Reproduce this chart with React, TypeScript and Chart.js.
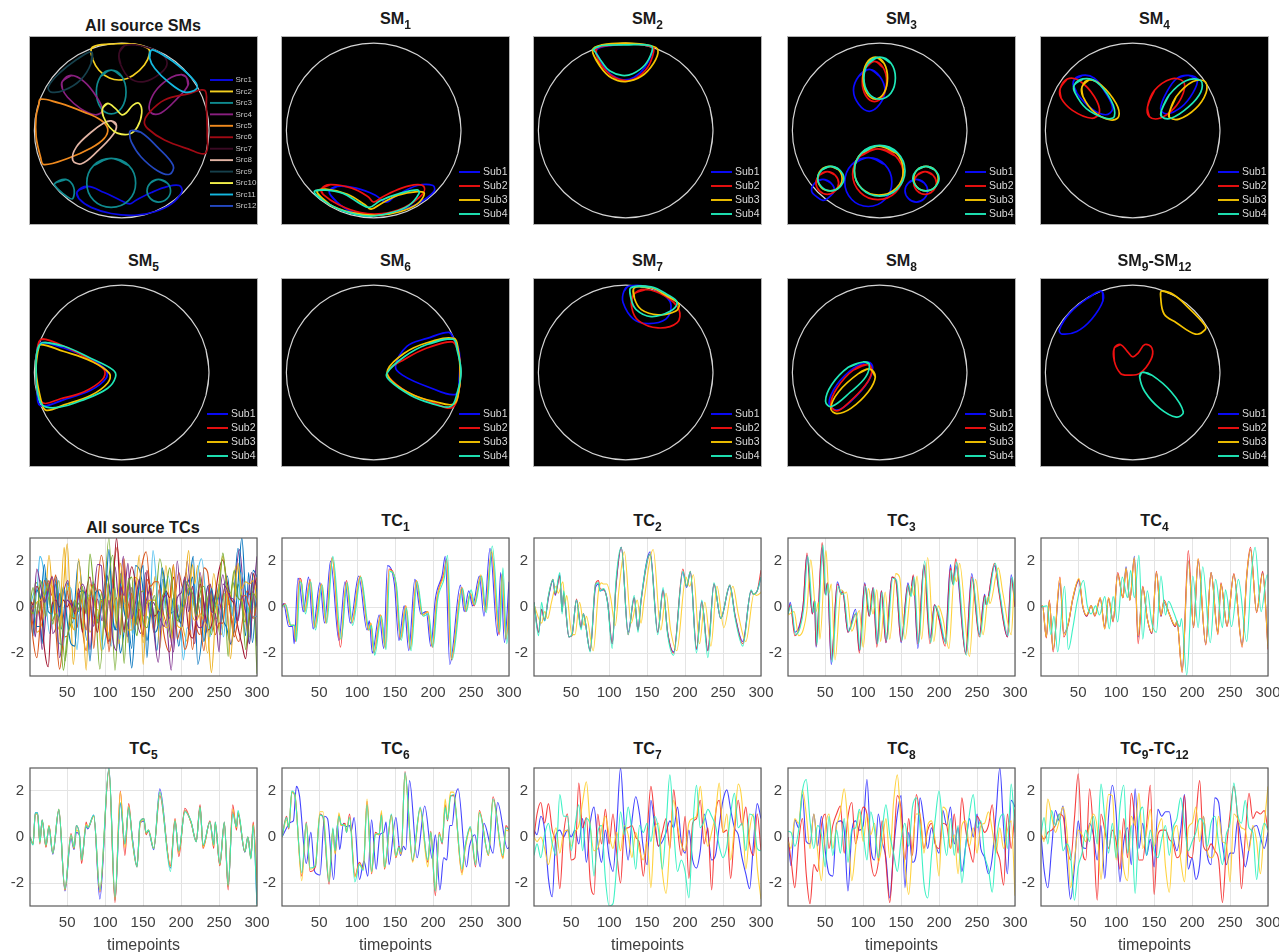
import React, { useEffect, useRef } from "react";
import { Chart, registerables } from "chart.js";

Chart.register(...registerables);
Chart.defaults.font.family = "'Liberation Sans', Arial, sans-serif";

const FONT = "'Liberation Sans', Arial, sans-serif";
const SUB_COLORS = ["#0a0aff", "#f01010", "#f5c400", "#1fe8b8"];
const TC_COLORS = ["rgba(20,20,255,.8)", "rgba(245,30,30,.85)", "rgba(255,205,40,.9)", "rgba(40,240,190,.9)"];
const SRC_COLORS = ["#0a0ae6", "#f5d020", "#0f8a8f", "#8a1f80", "#f08a1e", "#a00a14", "#3a0a24", "#e2b4a4", "#16404c", "#f2f04a", "#14b8e0", "#2448c0"];
const MATLAB = ["#0072BD", "#D95319", "#EDB120", "#7E2F8E", "#77AC30", "#4DBEEE", "#A2142F"];
const SUB_NAMES = ["Sub1", "Sub2", "Sub3", "Sub4"];
const SRC_NAMES = ["Src1", "Src2", "Src3", "Src4", "Src5", "Src6", "Src7", "Src8", "Src9", "Src10", "Src11", "Src12"];
const X_TICKS = [50, 100, 150, 200, 250, 300];
const Y_TICKS = [-2, 0, 2];

// Head outline, in map units
const HEAD = [100,0,96.6,25.9,86.6,50,70.7,70.7,50,86.6,25.9,96.6,0,100,-25.9,96.6,-50,86.6,-70.7,70.7,-86.6,50,-96.6,25.9,-100,0,-96.6,-25.9,-86.6,-50,-70.7,-70.7,-50,-86.6,-25.9,-96.6,0,-100,25.9,-96.6,50,-86.6,70.7,-70.7,86.6,-50,96.6,-25.9];

// All source SMs
const SRC1 = [[-51,-70,-39,-64,-20,-71,-1,-80,9,-84,16,-80,34,-71,53,-64,66,-63,69,-70,57,-84,38,-93,15,-97,-12,-95,-35,-88,-49,-78]];
const SRC2 = [[-35,93,-30,97,-12,99,15,99,30,94,32,88,26,75,13,63,0,58,-14,60,-26,69,-33,81]];
const SRC3 = [
  [-12,69,0,62,5,44,0,26,-12,19,-24,26,-29,44,-24,62],
  [-12,-32,8,-40,16,-60,8,-80,-12,-88,-32,-80,-40,-60,-32,-40],
  [-77,-61,-64,-56,-55,-65,-56,-78,-62,-76,-72,-68],
  [42,-56,52,-60,56,-69,52,-78,42,-82,33,-78,29,-69,33,-60],
];
const SRC4 = [
  [-68,56,-58,63,-43,56,-29,39,-22,23,-30,18,-47,25,-62,38,-68,48],
  [74,61,76,52,64,37,45,20,34,20,32,31,41,48,57,61,68,64],
];
const SRC5 = [[-93,36,-70,31,-43,21,-24,12,-16,2,-20,-9,-35,-20,-62,-32,-89,-39,-93,-30,-98,-7,-98,16,-95,29]];
const SRC6 = [[95,46,76,42,49,35,32,21,26,10,30,2,49,-11,76,-21,96,-26,98,-3,97,27]];
const SRC7 = [[-3,88,3,97,22,97,45,88,52,77,45,66,26,56,9,60,-1,75]];
const SRC8 = [[-12,11,-6,6,-10,-5,-28,-24,-46,-38,-56,-34,-52,-19,-35,-2,-20,9]];
const SRC9 = [[-35,90,-35,77,-47,58,-66,46,-81,44,-84,50,-72,65,-52,81]];
const SRC10 = [[-22,25,-16,31,-7,25,0,18,5,20,13,29,20,31,23,20,18,4,9,-4,-5,-3,-14,4,-21,16]];
const SRC11 = [[34,92,41,90,64,75,84,56,86,48,72,44,53,56,38,71,32,83]];
const SRC12 = [[11,0,22,-2,41,-19,59,-40,55,-50,41,-46,22,-30,11,-13,9,-3]];

const SM1 = [
  [[-51,-70,-42,-64,-20,-66,2,-74,14,-82,25,-75,50,-63,68,-63,69,-70,50,-84,25,-93,0,-97,-25,-93,-42,-82]],
  [[-60,-67,-50,-62,-25,-66,-6,-76,0,-82,10,-76,32,-66,50,-62,58,-65,55,-74,35,-88,10,-95,-15,-94,-40,-85,-58,-73]],
  [[-65,-70,-55,-67,-30,-73,-10,-85,-3,-90,8,-84,28,-74,50,-70,58,-72,50,-84,30,-93,5,-97,-25,-94,-50,-85]],
  [[-68,-70,-58,-68,-35,-72,-15,-84,-5,-88,8,-80,30,-72,50,-68,52,-72,40,-86,20,-94,-5,-98,-35,-92,-58,-80]],
];
const SM2 = [
  [[-33,93,0,99,30,96,30,88,22,72,10,61,-3,58,-18,65,-28,78]],
  [[-32,95,0,99,30,96,32,90,25,72,12,60,0,57,-15,62,-28,75,-34,88]],
  [[-38,92,-27,98,0,100,29,97,37,92,32,77,18,62,0,56,-16,60,-29,73]],
  [[-37,93,-28,97,0,98,29,97,30,90,22,75,8,65,-4,63,-18,68,-27,78,-35,90]],
];
const SM3 = [
  [
    [-12,70,0,62,6,46,0,30,-12,22,-24,30,-30,46,-24,62],
    [-13,-31,6,-39,14,-59,6,-79,-13,-87,-32,-79,-40,-59,-32,-39],
    [-65,-56,-56,-60,-52,-69,-60,-78,-65,-80,-72,-76,-78,-69,-74,-60],
    [42,-56,51,-60,55,-69,51,-78,42,-82,33,-78,29,-69,33,-60],
  ],
  [
    [-6,79,4,72,8,56,4,40,-6,33,-16,40,-20,56,-16,72],
    [-2,-21,18,-29,27,-50,18,-71,-2,-79,-22,-71,-31,-50,-22,-29],
    [-60,-47,-51,-51,-47,-60,-51,-69,-60,-73,-69,-69,-73,-60,-69,-51],
    [52,-47,61,-51,65,-60,61,-69,52,-73,43,-69,39,-60,43,-51],
  ],
  [
    [-5,84,5,77,9,60,5,43,-5,36,-15,43,-19,60,-15,77],
    [-1,-18,19,-26,27,-46,19,-66,-1,-74,-21,-66,-29,-46,-21,-26],
    [-57,-41,-47,-45,-43,-55,-47,-65,-57,-69,-67,-65,-71,-55,-67,-45],
    [53,-41,63,-45,67,-55,63,-65,53,-69,43,-65,39,-55,43,-45],
  ],
  [
    [0,84,13,77,18,60,13,43,0,36,-13,43,-18,60,-13,77],
    [0,-17,20,-25,29,-46,20,-67,0,-75,-20,-67,-29,-46,-20,-25],
    [-56,-41,-46,-45,-41,-55,-46,-65,-56,-69,-66,-65,-71,-55,-66,-45],
    [53,-41,63,-45,68,-55,63,-65,53,-69,43,-65,38,-55,43,-45],
  ],
];
const SM4 = [
  [[-68,56,-58,63,-44,60,-31,43,-23,25,-31,18,-47,25,-64,43],[64,63,74,58,69,43,56,27,39,19,32,25,39,44,51,60]],
  [[-83,48,-75,59,-61,57,-44,39,-38,21,-47,14,-69,23,-82,37],[17,27,25,46,44,59,58,56,58,43,47,25,31,14,19,16]],
  [[-58,50,-50,58,-36,52,-19,31,-16,16,-25,12,-44,21,-57,39],[42,21,50,39,69,56,83,56,84,43,72,25,53,13,42,15]],
  [[-67,52,-57,59,-42,56,-25,35,-21,16,-31,14,-53,25,-66,43],[33,23,42,41,61,57,78,57,78,44,64,27,44,14,33,16]],
];
const SM5 = [
  [[-93,34,-66,28,-35,15,-18,3,-18,-7,-35,-20,-66,-31,-93,-38,-97,-18,-98,1,-97,24]],
  [[-92,38,-66,30,-39,16,-20,3,-22,-8,-43,-22,-70,-30,-90,-35,-97,-18,-98,1,-97,24]],
  [[-93,32,-66,24,-35,13,-14,-1,-16,-12,-35,-26,-66,-37,-87,-43,-93,-29,-98,1,-96,24]],
  [[-91,34,-66,30,-35,16,-10,3,-7,-5,-16,-18,-43,-31,-73,-40,-91,-37,-97,-18,-98,1,-97,24]],
];
const SM6 = [
  [[86,46,61,39,38,30,25,7,33,-3,61,-16,94,-25,98,-7,98,24,92,38]],
  [[90,35,61,28,35,15,17,3,17,-5,38,-22,65,-33,90,-40,98,-18,99,1,97,24]],
  [[92,39,61,34,35,22,16,3,21,-10,46,-26,69,-33,92,-36,98,-18,99,1,97,24]],
  [[91,38,61,32,35,18,15,-1,19,-10,42,-26,65,-35,88,-39,96,-22,100,1,96,24]],
];
const SM7 = [
  [[4,99,26,98,46,87,52,76,46,61,26,56,9,61,-3,80,-2,93]],
  [[9,89,23,95,46,87,61,72,59,57,37,51,15,59,7,74]],
  [[10,97,29,97,48,87,61,78,57,70,37,66,18,72,10,85]],
  [[6,97,29,98,48,89,59,80,51,70,29,64,12,72,6,85]],
];
const SM8 = [
  [[-13,12,-8,6,-13,-10,-33,-33,-49,-43,-58,-35,-49,-14,-30,5]],
  [[-13,9,-9,1,-16,-14,-36,-35,-49,-44,-56,-37,-49,-18,-30,3]],
  [[-11,4,-5,-5,-13,-22,-33,-41,-49,-47,-56,-41,-47,-22,-24,-1]],
  [[-19,12,-12,10,-16,-5,-33,-22,-55,-39,-62,-33,-55,-14,-36,6]],
];
const SM9_12 = [
  [[-36,93,-34,82,-47,61,-64,47,-81,44,-84,49,-72,68,-53,84]],
  [[-21,28,-14,32,-6,24,0,18,6,22,14,32,22,28,21,15,8,-1,-6,-3,-14,-1,-21,13]],
  [[33,93,47,89,64,74,82,55,83,49,72,44,50,57,36,67,32,87]],
  [[11,0,22,-3,44,-22,58,-45,50,-51,31,-41,14,-22,8,-5]],
];

// Timecourses: knots are the peaks and troughs
const TC1_T = [1,3,10,15,17,22,24,29,36,42,51,57,65,76,84,91,102,113,116,120,129,135,140,149,155,162,168,176,184,191,197,203,212,216,222,236,241,247,252,261,267,275,285,289,294,300];
const TC1_LAG = [0,2,2,3];
const TC1 = [
  [0,.15,-.85,-.85,-1.6,1.25,1.1,-.2,1.3,-.95,1.05,-.7,2,-1.45,1.1,-.7,1.35,-1,-.6,-2,-.35,-1.8,1.8,1,-1.45,.05,-1.9,1.2,-.3,-.2,-1.7,.35,1.4,2.2,-2.5,.95,-.2,.7,.05,1.35,-.4,2.55,-1.25,1.5,-1.55,1.1],
  [0,.15,-.8,-.8,-1.5,1.25,1.2,-.2,1.2,-.9,1,-.7,2.15,-1.75,1.15,-.7,1.35,-1,-.7,-2,-.35,-1.75,1.65,1,-1.4,.05,-1.8,1.15,-.35,-.2,-1.75,.35,1.45,2.1,-2.3,.85,-.2,.6,.05,1.35,-.2,2.4,-1.2,1.45,-1.4,1],
  [0,.1,-.8,-.8,-1.45,1.15,1.1,-.2,1.15,-.9,1,-.7,2.1,-1.4,1.05,-.65,1.35,-1,-.7,-1.95,-.35,-1.8,1.6,1,-1.35,.05,-1.85,1.15,-.35,-.2,-1.7,.35,1.35,2,-2.25,.85,-.15,.6,.1,1.4,-.2,2.5,-1.1,1.4,-1.35,.9],
  [0,.1,-.8,-.8,-1.5,1.1,1,-.3,1.1,-1,.95,-.7,2.2,-1.4,1.05,-.8,1.3,-1,-.8,-2.1,-.4,-1.85,1.55,.9,-1.45,-.05,-1.9,1.1,-.4,-.3,-1.75,.3,1.3,2.25,-2.3,.8,-.2,.75,.1,1.35,-.25,2.65,-1.1,1.7,-1.6,1],
];
const TC2_T = [1,7,11,15,20,26,29,35,38,40,47,51,57,63,66,75,82,86,88,93,98,104,109,116,125,133,138,142,154,164,171,177,185,197,202,207,215,222,230,238,247,259,266,276,287,290,295,300];
const TC2_LAG = [0,0,4,0];
const TC2 = [
  [.2,-1.1,-.1,-.6,.4,1.15,.5,1.4,-.2,.6,-1.3,-1.2,.3,-.9,-.3,-1.9,.85,1,.7,.75,.2,-1.6,.9,2.6,-1.1,.4,-1,.3,2.4,-1.1,.75,-1.1,-1.95,1.5,.85,1.5,-1.85,.25,-1.9,1,-.5,.9,-.4,-1.5,.7,.55,.7,1.3],
  [.2,-1.1,-.1,-.55,.45,1.2,.55,1.35,-.2,.55,-1.3,-1.25,.35,-.9,-.3,-1.9,1,1.15,.8,.75,.2,-1.6,.95,2.6,-1.2,.4,-1,.25,2.3,-1.1,.7,-1.1,-2,1.65,.9,1.55,-1.8,.2,-1.9,1,-.5,.95,-.4,-1.6,.7,.55,.7,1.6],
  [.1,-.7,-.2,-.5,.2,.9,.6,1.1,.2,.5,-1.2,-1.2,.2,-.8,-.4,-1.9,.7,1.05,1,1,.4,-.8,.8,2.4,-.7,.3,-.7,.3,2.5,-1,.6,-1,-1.9,1.3,.9,1.4,-1.6,.2,-1.7,.9,-.9,.9,-.3,-1.5,.6,.5,.6,.85],
  [.2,-1.25,.2,-.6,.5,1.2,.6,1.5,-.3,.7,-1.3,-1.2,.3,-1,-.3,-1.95,1,1.05,.7,.8,.15,-1.8,1.15,2.6,-1.2,.5,-1.1,.3,2.3,-1.2,.85,-1.2,-2.1,1.55,.9,1.55,-2,.3,-2.2,1.05,-.5,.95,-.5,-1.7,.75,.55,.7,1.3],
];
const TC3_T = [1,4,10,16,21,26,33,36,38,46,50,53,58,66,71,73,80,90,95,102,108,113,118,124,130,138,143,150,159,162,166,172,180,188,194,200,208,215,218,222,235,243,253,260,262,273,279,290,295,300];
const TC3_LAG = [0,0,5,1];
const TC3 = [
  [-.3,.2,-1.1,-.8,.1,2.25,-.3,.3,-1.75,2.6,.55,1.05,-2.5,1.1,.6,.7,-1.1,-.1,-1.9,1.05,-.4,.85,-1.6,.7,-1.55,1.3,1.2,-1.55,1.05,.5,1.35,-1.8,1.8,-1.35,.1,-.5,-1.5,1.85,1,1.8,-2,1.45,-1.2,.55,.1,1.8,.7,-1.3,1.4,0],
  [-.3,.1,-1.25,-.9,.1,2.35,-.3,.3,-1.7,2.8,.55,1.05,-2.3,1,.55,.65,-1.1,-.3,-2,1,-.4,.85,-1.75,.7,-1.55,1.3,1.15,-1.5,.95,.5,1.4,-1.6,1.85,-1.6,.1,-.55,-1.7,1.7,1,2.1,-2.05,1.3,-1.3,.5,.1,1.9,.6,-1.3,1.25,0],
  [-.35,-.2,-1.25,-1,-.1,2.05,-.2,.2,-1.4,2.45,.6,1,-2.3,.75,.6,.65,-1.05,-.15,-1.75,.8,-.3,.75,-1.5,.65,-1.4,1.45,1.3,-1.4,.9,.5,1.35,-1.4,2.15,-1.5,.05,-.5,-1.8,1.35,1.1,1.9,-2.15,1.2,-1.2,.45,.15,1.7,.6,-1.2,1.25,0],
  [-.3,.05,-1.2,-.9,0,2.2,-.25,.25,-1.65,2.7,.5,1,-2.4,.9,.55,.6,-1.05,-.25,-1.85,.9,-.35,.8,-1.6,.65,-1.45,1.25,1.15,-1.45,.95,.45,1.3,-1.6,2,-1.55,.05,-.45,-1.6,1.6,.95,1.95,-2.1,1.25,-1.3,.45,.1,1.9,.6,-1.25,1.3,.05],
];
const TC4_T = [1,3,8,12,17,26,31,37,43,51,56,61,67,72,79,85,90,96,102,109,113,118,124,129,135,141,147,153,159,163,170,178,180,187,195,202,208,218,225,234,238,246,255,266,272,277,285,293,300];
const TC4_LAG = [0,0,0,6];
const TC4 = [
  [0,.05,-1.3,.25,-1.85,1.05,-1.15,-.7,.35,1.15,0,-.4,.05,-.35,.35,-.85,.35,-.6,1.4,.4,1.75,.3,2.2,-1.3,.85,-.5,-1.15,1.5,-.4,.2,-.3,-.85,-.6,-2.75,2,-.85,2,-1.6,1.5,-1.1,1,-.8,1.4,-1.65,1.3,2.5,-.2,1.5,-1.7],
  [0,.05,-1.35,.3,-1.95,1.3,-1.3,-.75,.4,1.2,.05,-.4,.05,-.4,.4,-.95,.4,-.65,1.5,.4,1.65,.3,2.1,-1.6,.9,-.5,-1.15,1.55,-.4,.3,-.3,-.85,-.6,-2.85,2.45,-.9,2.1,-1.65,1.5,-1.2,1.05,-.85,1.45,-1.75,1.4,2.6,-.25,1.55,-1.85],
  [0,.05,-1.3,.25,-1.85,1.25,-1.2,-.7,.4,1.25,.05,-.35,.05,-.35,.4,-.95,.4,-.6,1.4,.4,1.7,.3,2.15,-1.25,.85,-.5,-1.1,1.5,-.35,.25,-.3,-.8,-.6,-2.8,2,-.85,2.1,-1.6,1.5,-1.15,1,-.8,1.4,-1.7,1.35,2.5,-.2,1.45,-1.75],
  [0,.05,-1.2,-.4,-1.95,.9,-1.85,-.9,.3,1.15,.05,-.3,.05,-.35,.45,-.95,.45,-.65,1.3,.4,1.6,.4,2.25,-1.4,.7,-.7,-1.1,1.35,-.35,.25,-.25,-.85,-.5,-2.95,1.35,-.9,1.75,-1.55,1.2,-.9,.75,-.85,1.2,-1.5,1.4,2.6,-.2,1.4,-1.4],
];
const TC5_T = [1,5,8,11,14,17,22,26,31,39,47,55,59,62,66,69,75,77,85,93,105,113,120,126,131,136,142,146,151,154,157,164,172,186,192,197,205,213,220,225,229,238,243,245,251,257,262,268,273,275,284,288,292,295,300];
const TC5_LAG = [0,0,0,0];
const TC5 = [
  [0,-.3,1.05,1.05,-.2,.7,-.4,.45,-.75,1.15,-2.35,-.05,-.55,.2,.1,-.95,.45,.35,.95,-2.7,3,-2.75,1.45,-.3,1.25,-.1,-1.25,.6,.7,.15,.25,-.55,2.1,-1.35,.7,-.65,1.15,.65,-.2,1.3,-.4,.65,-.3,.55,-1.2,.6,-2.15,1.1,.45,1,-.65,0,-.9,.5,-2.9],
  [0,-.3,1,1,-.3,.75,-.45,.5,-.7,1.2,-2.3,.15,-.5,.5,.1,-1.15,.65,.4,.9,-2.4,2.9,-2.85,2,-.8,1.45,-.2,-1.3,.65,.8,.1,.3,-.5,1.8,-1.25,.8,-.85,1.25,.65,-.15,1.4,-.5,.7,-.5,.65,-1.25,.65,-2.3,1.4,.3,1.05,-.65,0,-.9,.65,-2],
  [0,-.3,1,1,-.25,.7,-.4,.5,-.7,1.2,-2.3,.1,-.5,.3,.1,-1,.55,.4,.9,-2.35,2.95,-2.75,1.95,-.45,1.35,-.2,-1.25,.55,.75,.15,.3,-.5,1.95,-1.3,.75,-.7,1.15,.65,-.2,1.3,-.45,.65,-.4,.6,-1.2,.6,-2.15,1.2,.4,1.05,-.6,0,-.95,.55,-2.2],
  [0,-.35,1.05,1.05,-.25,.75,-.35,.45,-.7,1.2,-2.25,.1,-.45,.5,.15,-1,.5,.4,.95,-2.3,3,-2.6,1.5,-.3,1.3,-.15,-1.3,.7,.8,.2,.3,-.5,1.95,-1.5,.7,-.6,1.1,.7,-.2,1.3,-.35,.65,-.35,.65,-1.15,.65,-2.1,1,.45,1.15,-.65,0,-.95,.5,-3],
];
const TC6_T = [1,7,10,14,18,27,33,38,45,51,55,63,68,71,76,79,84,86,90,97,103,108,113,119,124,129,132,136,145,151,155,158,163,173,183,193,197,203,208,212,216,219,223,227,238,242,249,256,261,273,279,292,296,300];
const TC6_LAG = [6,0,0,0];
const TC6 = [
  [0,.65,.7,2.2,1.8,-1.15,.2,-1.5,-1.65,.9,.8,-1.85,.55,-.55,.6,.45,.5,.25,.85,-1.85,-1.05,-1.7,.75,-1.4,.1,.2,.65,-1.2,.85,-.8,-.4,-.55,2.45,-.9,1.35,-.95,.1,-2.3,-.9,-1,.5,.5,1.7,2.1,-1.3,-.4,.1,-1.3,.6,-.7,1.5,-.5,-.4,-.4],
  [0,.9,.35,1.95,1.8,-1.7,.65,-1.5,-1.3,1,.85,-2.05,.35,-.7,.95,.5,.6,.2,1,-1.7,-1.1,-1.4,1.55,-1.6,.2,.1,1.05,-1.4,.95,-.9,-.4,-.7,2.85,-1.05,1.25,-1.1,.25,-2.55,.2,-.3,1.4,.7,1.8,1.8,-1.55,-.5,.4,-1.3,1.15,-.8,1.75,-.9,.5,.3],
  [0,.75,.4,1.95,1.85,-1.9,.55,-1.4,-1.2,1.1,1.1,-1.9,.3,-.75,1.05,.5,.55,.25,.85,-1.75,-1.15,-1.4,1.65,-1.55,.15,.1,1.15,-1.35,.9,-.85,-.5,-.75,2.7,-1.1,1.2,-1.3,.2,-2.3,.15,-.2,1.65,.8,1.95,1.95,-1.65,-.6,.35,-1.1,1.1,-.8,1.6,-.95,.3,.25],
  [0,.85,.4,2,1.8,-1.55,.6,-1.35,-1.25,.95,.9,-1.95,.4,-.6,.9,.55,.5,.2,.85,-1.95,-1.2,-1.45,1.4,-1.5,.1,.15,.95,-1.3,1,-.8,-.45,-.65,2.8,-1,1.3,-1,.2,-2.35,.1,-.25,1.3,.75,1.75,1.85,-1.4,-.45,.45,-1.2,1.05,-.75,1.65,-.8,.4,.35],
];
const T5 = [1,5,10,15,20,25,30,35,40,45,50,55,60,65,70,75,80,85,90,95,100,105,110,115,120,125,130,135,140,145,150,155,160,165,170,175,180,185,190,195,200,205,210,215,220,225,230,235,240,245,250,255,260,265,270,275,280,285,290,295,300];
const NO_LAG = [0,0,0,0];
const TC7 = [
  [.3,.1,.9,.3,-1.8,-2.6,.1,.3,0,.3,0,.3,-.3,.8,-1.1,.6,1.3,-.2,-1.1,.3,-.9,-1.5,.5,3,.5,-1,.7,1.75,1,-.5,-1.2,1.6,.5,-.4,-.2,.2,.7,.4,1.3,-.2,-.7,.3,-1,-1.35,-.6,1,.2,-1,-.8,.5,1.6,2.05,1.2,.4,.1,-.9,-1.6,-2.25,-.3,1.45,.8],
  [0,1,1.5,.6,1.45,.3,-.3,-2.25,.1,1,-1,-.9,2.35,.4,.85,-1.9,-2.5,1,-.3,1.2,-.3,1,-.7,-2,.3,.4,.5,0,-.3,-1.7,.2,2.2,.8,-.4,.2,.8,-.5,2.05,.4,-.8,.9,-1.8,.6,.8,1.6,-.3,.4,-2.3,.9,1.6,.2,.3,-1.8,.2,1.6,.5,1.3,-.3,-.8,1,-.6],
  [0,-.2,0,-.5,-1.2,-.3,.4,-.7,.2,.3,-.4,.2,.5,1.5,2.4,.5,-.6,-.5,.3,.9,.1,-.5,.2,-.6,.5,.1,-.9,.2,-.6,-1,-.2,-2.2,.4,.6,-1.5,-2.45,-.3,1.6,.5,-.3,-.6,.6,.8,.9,2.2,.6,-.4,.2,1,2.35,.2,1,-1,.5,2.3,1.5,-1.4,.3,1,-1.3,-2.7],
  [-.8,-.3,-.9,.1,.6,-.3,-.8,1.85,.9,.9,-.6,.5,1.4,-.6,.8,.5,-1.7,.2,.5,-1.8,-3,-2.9,-1.2,1.1,.1,1.3,.2,-1.4,.5,.2,.6,-.2,.9,.3,-1.4,.5,2.7,.3,-1.5,-1,-1.5,-2.65,.3,2.25,.4,.7,1.2,.9,.5,-.4,-.9,-.4,1,1.9,.4,.6,-.6,1,.9,-.5,-.6],
];
const TC8 = [
  [0,-1.25,.75,.4,1.85,-.2,-.3,1,-.4,.9,-.6,-1.6,-1.7,.6,.7,.3,-2.35,.2,.7,.3,.5,2.5,-.4,-1,1,-.2,-.9,-2.65,-.6,1,1.8,-2.2,.2,-1.1,-.7,1.7,.7,-.5,.4,-.3,-.7,1.15,.5,1.3,-.3,.4,-1.5,-.4,.8,0,1,-.5,-.9,-1.6,-.9,1,3,.4,-1.6,1.6,1.3],
  [0,-1,-2.2,-.2,.8,-1.6,-2.9,-1.2,-1.5,.5,1,-.5,.5,1,1.35,-.7,.9,1.5,-.3,.5,1.3,1,-1,-1.7,-1.1,.7,-1.1,-2.85,-.6,1.8,1.2,-1,.8,-.8,1.85,.9,-.5,.3,.6,-.3,-.5,.6,.5,-.5,1,-.7,1.7,.3,-.5,-1.1,.9,.6,.2,.5,1.4,-.4,-1,-2.1,1,-.5,1.2],
  [-.2,-.5,.8,.6,2.05,1,-.5,1,-.6,-1.9,.3,1,-.5,.5,1.1,2.1,.5,-1.9,-.5,1.1,-.2,1,.1,.6,-1.1,-.3,.8,-.9,1.5,2.7,.5,-1.2,-2.5,-.4,1,1,-.7,.5,.7,-.2,-1.7,1.3,1.1,-.5,.1,-1.6,.5,.7,-.4,.4,-.7,.5,.6,1.1,.3,-.7,.4,-.5,.3,.7,-2.55],
  [.25,.2,-.4,.3,2,2.5,.7,-.5,.5,.1,-1.3,.9,-.8,.3,-.7,.8,-1.1,.3,.4,1.2,.2,-1,1.1,.3,-.9,.3,1.4,.1,-.7,-1.5,-.1,.6,-.4,1.3,1.7,.4,-2,-2.65,-.8,.8,2,.3,-.8,.8,-.8,.5,-2,-.4,1,1.85,.4,.7,-.8,-1.4,-2.4,-.3,.8,1,-.5,2.3,.2],
];
const TC9_12 = [
  [.1,-1.4,-2.2,-.5,1.15,.7,1.35,-1,-2.7,-1.3,.7,-.4,-.5,.6,.1,-1,.5,-1.8,.9,2.25,1,-1.95,-.2,.4,-1.2,2.1,-.5,.6,-.8,-.1,-1.3,1.2,.9,1.1,1.1,0,-.6,.3,1.85,-1.4,-.9,-1.85,-1.2,.9,-.8,-1.2,1.7,1.5,-.3,-1.2,-.7,-.7,.7,-.3,-1.3,-.5,.4,.5,0,-.5,.2],
  [.1,-.1,.2,.3,.5,1,.9,-.4,-1,.8,2.75,-.4,-1,2.1,.2,-2.75,1,.3,-.5,.3,-.2,-1.4,.8,-.9,1.9,.6,-1,-1,.5,2.25,-2.5,.1,.3,.3,-.1,-.3,-.9,-.7,1.8,-.8,-.9,.8,2.45,-.4,-.6,-.3,-.6,-1,-2.85,-.6,1,2.2,.8,-2.25,0,1.9,.8,1.1,1,1.15,.3],
  [.2,-.2,1.65,.9,.2,.7,1.3,.3,-2.2,-1,.3,.1,-.2,.5,1,.4,-1.85,.3,1.85,1.8,-1,.3,-1.4,-1.9,.9,.5,1.9,-.5,.2,1.2,-.4,.4,.8,-1.3,-2.4,0,.5,-1,-1.95,.4,.6,1.3,-.2,.9,-.6,-.9,-.6,.9,-.2,-.3,-1.95,1,.8,.4,.3,-.6,.5,-.2,-1.6,.5,2.2],
  [.1,.85,-.3,1.15,.5,1,-.6,-.3,-.8,-2.75,-1.3,-.7,.3,-.2,.9,-.3,2.3,.8,-.7,.6,-.9,1.3,2.25,-.7,.5,-2.45,.7,1.3,-.8,.3,-.6,-.9,-.1,.5,-.8,.4,.8,1.7,.5,-.6,-.2,.2,.8,.6,-.4,.6,.9,-.3,-1.2,.1,.6,2.35,1,.6,1.6,.4,.2,-1.85,-.2,.6,.3],
];

const COL_X = [30, 282, 534, 788, 1041];
const PANEL_W = 227;
const SM_ROWS = [37, 279];
const TC_ROWS = [538, 768];
const SM_H = 187;
const TC_H = 138;
const LABEL_ROOM = 49;
const TICK_ROOM = 30;

type Title = { a: string; s?: string; b?: string; s2?: string };
const SM_PANELS: { title: Title; col: number; row: number; groups: number[][][] }[] = [
  { title: { a: "SM", s: "1" }, col: 1, row: 0, groups: SM1 },
  { title: { a: "SM", s: "2" }, col: 2, row: 0, groups: SM2 },
  { title: { a: "SM", s: "3" }, col: 3, row: 0, groups: SM3 },
  { title: { a: "SM", s: "4" }, col: 4, row: 0, groups: SM4 },
  { title: { a: "SM", s: "5" }, col: 0, row: 1, groups: SM5 },
  { title: { a: "SM", s: "6" }, col: 1, row: 1, groups: SM6 },
  { title: { a: "SM", s: "7" }, col: 2, row: 1, groups: SM7 },
  { title: { a: "SM", s: "8" }, col: 3, row: 1, groups: SM8 },
  { title: { a: "SM", s: "9", b: "-SM", s2: "12" }, col: 4, row: 1, groups: SM9_12 },
];
const TC_PANELS = [
  { title: { a: "TC", s: "1" }, col: 1, row: 0, t: TC1_T, lag: TC1_LAG, vals: TC1 },
  { title: { a: "TC", s: "2" }, col: 2, row: 0, t: TC2_T, lag: TC2_LAG, vals: TC2 },
  { title: { a: "TC", s: "3" }, col: 3, row: 0, t: TC3_T, lag: TC3_LAG, vals: TC3 },
  { title: { a: "TC", s: "4" }, col: 4, row: 0, t: TC4_T, lag: TC4_LAG, vals: TC4 },
  { title: { a: "TC", s: "5" }, col: 0, row: 1, t: TC5_T, lag: TC5_LAG, vals: TC5 },
  { title: { a: "TC", s: "6" }, col: 1, row: 1, t: TC6_T, lag: TC6_LAG, vals: TC6 },
  { title: { a: "TC", s: "7" }, col: 2, row: 1, t: T5, lag: NO_LAG, vals: TC7 },
  { title: { a: "TC", s: "8" }, col: 3, row: 1, t: T5, lag: NO_LAG, vals: TC8 },
  { title: { a: "TC", s: "9", b: "-TC", s2: "12" }, col: 4, row: 1, t: T5, lag: NO_LAG, vals: TC9_12 },
];
// The 12 sources in the overview panel are the first-subject curves of TC1-8 and the four TC9-12 curves
const ALL_SOURCES = [
  { t: TC1_T, v: TC1[0] }, { t: TC2_T, v: TC2[0] }, { t: TC3_T, v: TC3[0] }, { t: TC4_T, v: TC4[0] },
  { t: TC5_T, v: TC5[0] }, { t: TC6_T, v: TC6[0] }, { t: T5, v: TC7[0] }, { t: T5, v: TC8[0] },
  { t: T5, v: TC9_12[0] }, { t: T5, v: TC9_12[1] }, { t: T5, v: TC9_12[2] }, { t: T5, v: TC9_12[3] },
];

function pairs(flat: number[]) {
  const p: { x: number; y: number }[] = [];
  for (let i = 0; i < flat.length; i += 2) p.push({ x: flat[i], y: flat[i + 1] });
  return p;
}
function closed(flat: number[]) {
  const p = pairs(flat);
  return [p[p.length - 1], ...p, p[0], p[1]];
}
function outline(loops: number[][]) {
  const out: { x: number; y: number | null }[] = [];
  loops.forEach((l, i) => {
    if (i) out.push({ x: 0, y: null });
    out.push(...closed(l));
  });
  return out;
}
function knots(t: number[], v: number[], lag: number) {
  return t.map((x, i) => ({ x: i === 0 ? x : x + lag, y: v[i] }));
}

const legendPlugin = (names: string[], colors: string[], y0: number, dy: number, x0: number, x1: number, xt: number, size: number, color: string) => ({
  id: "insetLegend",
  afterDatasetsDraw(chart: any) {
    const { ctx, chartArea: a } = chart;
    ctx.save();
    ctx.font = `${size}px ${FONT}`;
    ctx.textBaseline = "middle";
    ctx.textAlign = "left";
    names.forEach((n, i) => {
      const y = a.top + y0 + i * dy;
      ctx.strokeStyle = colors[i];
      ctx.lineWidth = 1.9;
      ctx.beginPath();
      ctx.moveTo(a.left + x0, y);
      ctx.lineTo(a.left + x1, y);
      ctx.stroke();
      ctx.fillStyle = color;
      ctx.fillText(n, a.left + xt, y);
    });
    ctx.restore();
  },
});
const boxPlugin = {
  id: "box",
  afterDatasetsDraw(chart: any) {
    const { ctx, chartArea: a } = chart;
    ctx.save();
    ctx.strokeStyle = "#5a5a5a";
    ctx.lineWidth = 1.2;
    ctx.strokeRect(a.left, a.top, a.right - a.left, a.bottom - a.top);
    ctx.restore();
  },
};

function smChart(canvas: HTMLCanvasElement, groups: number[][][], colors: string[], names: string[], all: boolean) {
  const datasets: any[] = [
    { data: closed(HEAD), borderColor: "#d4d4d4", borderWidth: 1.2, tension: 0.34, pointRadius: 0, order: 0 },
    ...groups.map((g, i) => ({ data: outline(g), borderColor: colors[i], borderWidth: 1.7, tension: 0.38, pointRadius: 0, order: -1 - i })),
  ];
  const legend = all
    ? legendPlugin(names, colors, 43, 11.45, 180, 203, 205.5, 8, "#c8c8c8")
    : legendPlugin(names, colors, 135, 14, 177, 198, 201, 10.5, "#d8d8d8");
  return new Chart(canvas, {
    type: "line",
    data: { datasets },
    options: {
      animation: false,
      responsive: false,
      layout: { padding: 0 },
      plugins: { legend: { display: false }, tooltip: { enabled: false } },
      scales: {
        x: { type: "linear", min: -105, max: 155, display: false },
        y: { type: "linear", min: -107, max: 107, display: false },
      },
    },
    plugins: [legend],
  } as any);
}

const noScalePadding = (s: any) => {
  s.paddingTop = 0;
  s.paddingBottom = 0;
  s.paddingLeft = 0;
  s.paddingRight = 0;
};

function tcChart(canvas: HTMLCanvasElement, series: { data: any[]; color: string }[], withLabel: boolean) {
  const bottom = withLabel ? LABEL_ROOM : TICK_ROOM;
  return new Chart(canvas, {
    type: "line",
    data: {
      datasets: series.map((s, i) => ({
        data: s.data,
        borderColor: s.color,
        borderWidth: 1.1,
        pointRadius: 0,
        cubicInterpolationMode: "monotone",
        order: -i,
      })),
    },
    options: {
      animation: false,
      responsive: false,
      layout: { padding: { top: 5, right: 20, left: 0, bottom: 0 } },
      plugins: { legend: { display: false }, tooltip: { enabled: false } },
      scales: {
        x: {
          type: "linear",
          min: 1,
          max: 300,
          grid: { color: "#e4e4e4", drawTicks: false },
          border: { display: false },
          ticks: { color: "#404040", font: { size: 15 }, padding: 8, maxRotation: 0, autoSkip: false },
          afterBuildTicks: (s: any) => { s.ticks = X_TICKS.map((value) => ({ value })); },
          afterFit: (s: any) => { s.height = bottom; noScalePadding(s); },
          title: { display: withLabel, text: "timepoints", color: "#404040", font: { size: 16 }, padding: { top: 0, bottom: 0 } },
        },
        y: {
          type: "linear",
          min: -3,
          max: 3,
          grid: { color: "#e4e4e4", drawTicks: false },
          border: { display: false },
          ticks: { color: "#404040", font: { size: 15 }, padding: 6, autoSkip: false },
          afterBuildTicks: (s: any) => { s.ticks = Y_TICKS.map((value) => ({ value })); },
          afterFit: (s: any) => { s.width = 30; noScalePadding(s); },
        },
      },
    },
    plugins: [boxPlugin],
  } as any);
}

function TitleText({ t, cx, baseline }: { t: Title; cx: number; baseline: number }) {
  const subStyle: React.CSSProperties = { fontSize: 12, position: "relative", top: 5, verticalAlign: "baseline", lineHeight: 0 };
  return (
    <div style={{ position: "absolute", left: cx - 100, width: 200, top: baseline - 15.5, textAlign: "center", font: `bold 16.2px/18px ${FONT}`, color: "#1a1a1a", whiteSpace: "nowrap" }}>
      {t.a}
      {t.s && <span style={subStyle}>{t.s}</span>}
      {t.b}
      {t.s2 && <span style={subStyle}>{t.s2}</span>}
    </div>
  );
}

export default function App() {
  const smRefs = useRef<(HTMLCanvasElement | null)[]>([]);
  const tcRefs = useRef<(HTMLCanvasElement | null)[]>([]);
  const allSm = useRef<HTMLCanvasElement | null>(null);
  const allTc = useRef<HTMLCanvasElement | null>(null);

  useEffect(() => {
    const charts: Chart[] = [];
    charts.push(
      smChart(allSm.current!, [SRC1, SRC2, SRC3, SRC4, SRC5, SRC6, SRC7, SRC8, SRC9, SRC10, SRC11, SRC12], SRC_COLORS, SRC_NAMES, true)
    );
    SM_PANELS.forEach((p, i) => charts.push(smChart(smRefs.current[i]!, p.groups, SUB_COLORS, SUB_NAMES, false)));
    charts.push(
      tcChart(allTc.current!, ALL_SOURCES.map((s, i) => ({ data: knots(s.t, s.v, 0), color: MATLAB[i % 7] })), false)
    );
    TC_PANELS.forEach((p, i) =>
      charts.push(
        tcChart(
          tcRefs.current[i]!,
          p.vals.map((v, k) => ({ data: knots(p.t, v, p.lag[k]), color: TC_COLORS[k] })),
          p.row === 1
        )
      )
    );
    return () => charts.forEach((c) => c.destroy());
  }, []);

  const smStyle = (col: number, row: number): React.CSSProperties => ({
    position: "absolute",
    left: COL_X[col],
    top: SM_ROWS[row],
    width: PANEL_W,
    height: SM_H,
    background: "#000",
    outline: "1px solid #b4b4b4",
  });
  const tcStyle = (col: number, row: number): React.CSSProperties => ({
    position: "absolute",
    left: COL_X[col] - 30,
    top: TC_ROWS[row] - 5,
  });
  const tcH = (row: number) => 5 + TC_H + (row === 1 ? LABEL_ROOM : TICK_ROOM);

  return (
    <div style={{ position: "absolute", left: 0, top: 0, width: 1279, height: 952, overflow: "hidden", background: "#fff", filter: "blur(0.35px)" }}>
      <TitleText t={{ a: "All source SMs" }} cx={143} baseline={31} />
      <canvas ref={allSm} width={PANEL_W} height={SM_H} style={smStyle(0, 0)} />
      {SM_PANELS.map((p, i) => (
        <React.Fragment key={i}>
          <TitleText t={p.title} cx={COL_X[p.col] + PANEL_W / 2} baseline={SM_ROWS[p.row] - 13} />
          <canvas ref={(el) => { smRefs.current[i] = el; }} width={PANEL_W} height={SM_H} style={smStyle(p.col, p.row)} />
        </React.Fragment>
      ))}
      <TitleText t={{ a: "All source TCs" }} cx={143} baseline={533} />
      <canvas ref={allTc} width={30 + PANEL_W + 20} height={tcH(0)} style={tcStyle(0, 0)} />
      {TC_PANELS.map((p, i) => (
        <React.Fragment key={i}>
          <TitleText t={p.title} cx={COL_X[p.col] + PANEL_W / 2} baseline={TC_ROWS[p.row] - (p.row === 0 ? 12 : 14)} />
          <canvas ref={(el) => { tcRefs.current[i] = el; }} width={30 + PANEL_W + 20} height={tcH(p.row)} style={tcStyle(p.col, p.row)} />
        </React.Fragment>
      ))}
    </div>
  );
}
